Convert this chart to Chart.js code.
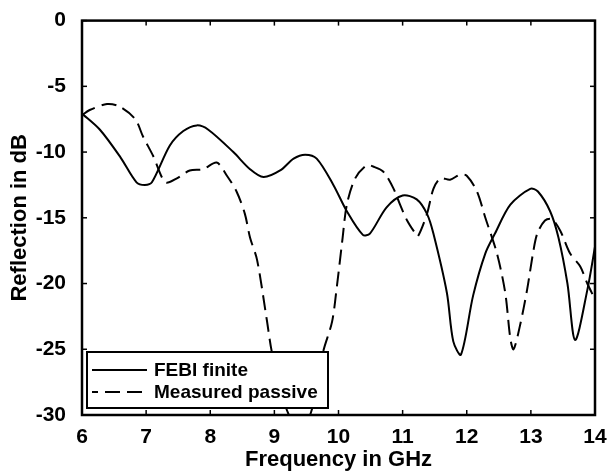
<!DOCTYPE html>
<html>
<head>
<meta charset="utf-8">
<script src="https://cdn.jsdelivr.net/npm/chart.js@4"></script>
<style>
  html, body { margin: 0; padding: 0; background: #fff; }
  #wrap { width: 613px; height: 473px; position: relative; }
</style>
</head>
<body>
<div id="wrap"><canvas id="chart-reflection"></canvas></div>
<script>
// FEBI finite (solid)
var febiFreq = [6.0, 6.28, 6.6, 6.85, 6.98, 7.09, 7.37, 7.58, 7.79, 7.97, 8.36, 8.62, 8.83, 9.09, 9.3, 9.48, 9.66, 9.92, 10.13, 10.38, 10.49, 10.75, 11.0, 11.22, 11.38, 11.48, 11.69, 11.79, 11.91, 12.1, 12.29, 12.44, 12.68, 12.99, 13.11, 13.3, 13.43, 13.57, 13.69, 13.88, 14.0];
var febiDb   = [-7.07, -8.3, -10.4, -12.3, -12.5, -12.3, -9.5, -8.4, -7.97, -8.3, -10.0, -11.3, -11.9, -11.4, -10.5, -10.2, -10.5, -12.5, -14.5, -16.3, -16.2, -14.2, -13.3, -13.6, -14.7, -16.2, -20.7, -24.4, -25.4, -20.9, -17.7, -16.2, -14.0, -12.8, -13.0, -14.5, -16.5, -20.0, -24.3, -20.5, -17.2];

// Measured passive (dashed)
var measFreq = [6.0, 6.12, 6.39, 6.59, 6.83, 6.95, 7.11, 7.3, 7.48, 7.68, 7.89, 8.1, 8.26, 8.41, 8.54, 8.62, 8.73, 8.88, 8.96, 9.12, 9.3, 9.5, 9.66, 9.76, 9.9, 9.98, 10.06, 10.13, 10.26, 10.44, 10.54, 10.7, 10.86, 10.96, 11.07, 11.2, 11.24, 11.38, 11.48, 11.59, 11.74, 11.9, 12.0, 12.16, 12.29, 12.47, 12.6, 12.68, 12.73, 12.83, 12.94, 13.04, 13.1, 13.22, 13.33, 13.46, 13.61, 13.77, 13.88, 14.0];
var measDb   = [-7.2, -6.8, -6.35, -6.55, -7.5, -8.8, -10.3, -12.3, -12.0, -11.4, -11.3, -10.8, -11.8, -13.0, -14.7, -16.5, -18.2, -22.7, -25.2, -28.5, -30.6, -30.6, -28.0, -25.2, -22.9, -20.0, -16.7, -14.0, -12.0, -11.0, -11.1, -11.5, -12.8, -14.0, -15.2, -16.2, -16.4, -14.7, -12.8, -12.0, -12.1, -11.7, -11.8, -13.0, -15.0, -17.7, -20.7, -24.2, -25.0, -23.2, -20.5, -17.5, -16.2, -15.2, -15.1, -16.0, -17.7, -18.7, -20.0, -21.2];

var freqTicks = [6, 7, 8, 9, 10, 11, 12, 13, 14];
var dbTicks = [0, -5, -10, -15, -20, -25, -30];
var seriesNames = ['FEBI finite', 'Measured passive'];

var fontFam = '"Liberation Sans", Arial, sans-serif';
var dashPat = [15, 7];

function toPoints(xs, ys) {
    return xs.map(function(x, i) { return { x: x, y: ys[i] } })
}

// frame, inward ticks on all four sides, legend box inside the axes
var framePlugin = {
    id: 'frame',
    afterDatasetsDraw: function(chart) {
        var ctx = chart.ctx
        var a = chart.chartArea
        var xs = chart.scales.x, ys = chart.scales.y
        ctx.save()
        ctx.strokeStyle = '#000'
        ctx.lineWidth = 1.5
        freqTicks.forEach(function(v) {
            var px = xs.getPixelForValue(v)
            ctx.beginPath(); ctx.moveTo(px, a.bottom); ctx.lineTo(px, a.bottom - 5); ctx.stroke()
            ctx.beginPath(); ctx.moveTo(px, a.top); ctx.lineTo(px, a.top + 5); ctx.stroke()
        })
        dbTicks.forEach(function(v) {
            var py = ys.getPixelForValue(v)
            ctx.beginPath(); ctx.moveTo(a.left, py); ctx.lineTo(a.left + 5, py); ctx.stroke()
            ctx.beginPath(); ctx.moveTo(a.right, py); ctx.lineTo(a.right - 5, py); ctx.stroke()
        })
        ctx.lineWidth = 2.5
        ctx.strokeRect(a.left, a.top, a.right - a.left, a.bottom - a.top)

        // legend
        var lx = a.left + 5, ly = 352, lw = 241, lh = 56
        ctx.fillStyle = '#fff'
        ctx.fillRect(lx, ly, lw, lh)
        ctx.lineWidth = 2
        ctx.strokeRect(lx, ly, lw, lh)
        ctx.beginPath(); ctx.moveTo(lx + 5, 370); ctx.lineTo(lx + 60, 370); ctx.stroke()
        ctx.setLineDash(dashPat)
        ctx.lineDashOffset = 9
        ctx.beginPath(); ctx.moveTo(lx + 5, 392); ctx.lineTo(lx + 60, 392); ctx.stroke()
        ctx.setLineDash([])
        ctx.fillStyle = '#000'
        ctx.font = 'bold 19px ' + fontFam
        ctx.textBaseline = 'middle'
        ctx.textAlign = 'left'
        ctx.fillText(seriesNames[0], lx + 67, 371)
        ctx.fillText(seriesNames[1], lx + 67, 393)
        ctx.restore()
    }
}

var lineCanvas = document.getElementById('chart-reflection').getContext('2d')

new Chart(lineCanvas, {
    type: 'line',
    data: {
        datasets: [{
            label: seriesNames[0],
            data: toPoints(febiFreq, febiDb),
            borderColor: '#000',
            borderWidth: 2,
            pointRadius: 0,
            tension: 0.3,
            fill: false
        }, {
            label: seriesNames[1],
            data: toPoints(measFreq, measDb),
            borderColor: '#000',
            borderWidth: 2,
            borderDash: dashPat,
            pointRadius: 0,
            tension: 0.3,
            fill: false
        }]
    },
    options: {
        responsive: true,
        maintainAspectRatio: false,
        animation: false,
        layout: { padding: { top: 12, right: 18, left: 0, bottom: 0 } },
        plugins: {
            legend: { display: false },
            tooltip: { enabled: false }
        },
        scales: {
            x: {
                type: 'linear',
                min: 6,
                max: 14,
                afterFit: function(s) { s.height = 58 },
                afterBuildTicks: function(s) { s.ticks = freqTicks.map(function(v) { return { value: v } }) },
                grid: { display: false },
                border: { display: false },
                ticks: { color: '#000', padding: 2, font: { family: fontFam, size: 21, weight: 'bold' } },
                title: { display: true, text: 'Frequency in GHz', color: '#000', padding: 0, font: { family: fontFam, size: 22, weight: 'bold' } }
            },
            y: {
                min: -30,
                max: 0,
                afterFit: function(s) { s.width = 82 },
                afterBuildTicks: function(s) { s.ticks = dbTicks.map(function(v) { return { value: v } }) },
                grid: { display: false },
                border: { display: false },
                ticks: { color: '#000', padding: 8, font: { family: fontFam, size: 21, weight: 'bold' } },
                title: { display: true, text: 'Reflection in dB', color: '#000', padding: { top: 7, bottom: 0 }, font: { family: fontFam, size: 22, weight: 'bold' } }
            }
        }
    },
    plugins: [framePlugin]
})
</script>
</body>
</html>
